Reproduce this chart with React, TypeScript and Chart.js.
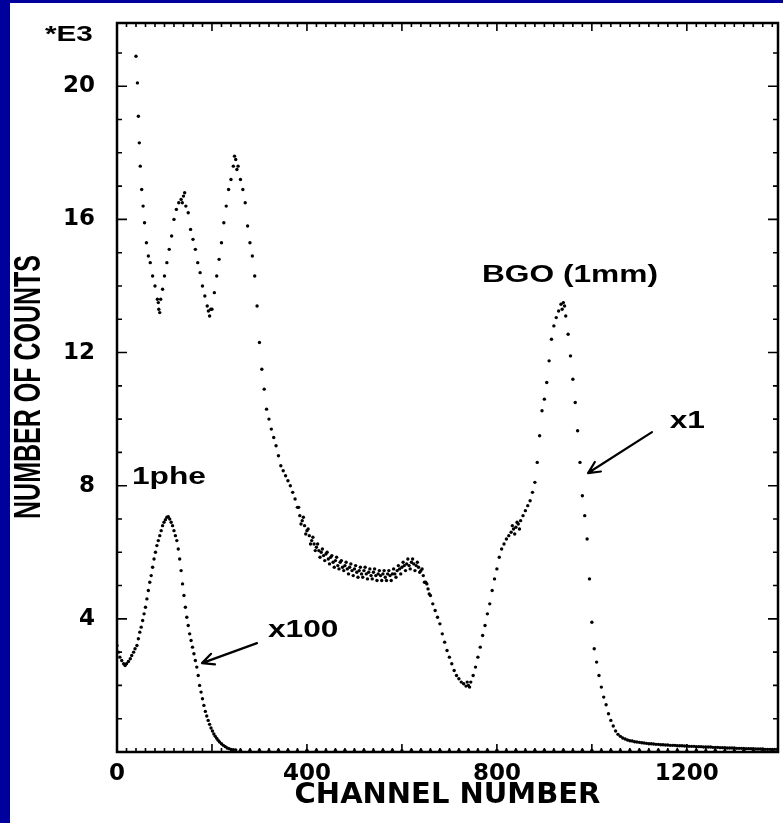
import React, { useEffect, useRef } from "react";
import { Chart, registerables } from "chart.js";

Chart.register(...registerables);

// BGO (1mm) spectrum, x1 — channel numbers and counts (thousands)
const bgoChannels = [
  40, 43, 45, 47, 49, 52, 55, 58, 62, 66, 70, 75, 80, 85, 88, 92, 96, 100, 105, 110,
  115, 120, 125, 130, 135, 140, 145, 150, 155, 160, 165, 170, 175, 180, 185, 190, 195, 200, 205, 210,
  215, 220, 225, 230, 235, 240, 245, 250, 255, 260, 265, 270, 275, 280, 285, 290, 295, 300, 305, 310,
  315, 320, 325, 330, 335, 340, 345, 350, 355, 360, 365, 370, 375, 380, 385, 390, 395, 400, 405, 410,
  415, 420, 425, 430, 435, 440, 445, 450, 455, 460, 465, 470, 475, 480, 485, 490, 495, 500, 505, 510,
  515, 520, 525, 530, 535, 540, 545, 550, 555, 560, 565, 570, 575, 580, 585, 590, 595, 600, 605, 610,
  615, 620, 625, 630, 635, 640, 645, 650, 655, 660, 665, 670, 675, 680, 685, 690, 695, 700, 705, 710,
  715, 720, 725, 730, 735, 740, 745, 750, 755, 760, 765, 770, 775, 780, 785, 790, 795, 800, 805, 810,
  815, 820, 825, 830, 835, 840, 845, 850, 855, 860, 865, 870, 875, 880, 885, 890, 895, 900, 905, 910,
  915, 920, 925, 930, 935, 940, 945, 950, 955, 960, 965, 970, 975, 980, 985, 990, 995, 1000, 1005, 1010,
  1015, 1020, 1025, 1030, 1035, 1040, 1045, 1050, 1055, 1060, 1065, 1070, 1075, 1080, 1090, 1100, 1110, 1120, 1130, 1140,
  1150, 1160, 1170, 1180, 1190, 1200, 1210, 1220, 1230, 1240, 1250, 1260, 1270, 1280, 1290, 1300, 1310, 1320, 1330, 1340,
  1350, 1360, 1370, 1380, 1390,
];
const bgoCounts = [
  20.9, 20.1, 19.1, 18.3, 17.6, 16.9, 16.4, 15.9, 15.3, 14.9, 14.7, 14.3, 14.0, 13.6, 13.3, 13.6, 13.9, 14.3, 14.7, 15.1,
  15.5, 16.0, 16.3, 16.5, 16.6, 16.7, 16.4, 16.2, 15.7, 15.4, 15.1, 14.7, 14.4, 14.0, 13.7, 13.4, 13.1, 13.3, 13.8, 14.3,
  14.8, 15.3, 15.9, 16.4, 16.9, 17.2, 17.6, 17.8, 17.6, 17.2, 16.9, 16.5, 15.8, 15.3, 14.9, 14.3, 13.4, 12.3, 11.5, 10.9,
  10.3, 10.0, 9.7, 9.45, 9.2, 8.9, 8.6, 8.45, 8.3, 8.15, 8.0, 7.8, 7.6, 7.35, 7.1, 6.95, 6.8, 6.65, 6.5, 6.35,
  6.25, 6.15, 6.05, 6.0, 5.9, 5.95, 5.8, 5.85, 5.7, 5.75, 5.6, 5.7, 5.55, 5.6, 5.5, 5.55, 5.45, 5.5, 5.4, 5.45,
  5.35, 5.45, 5.35, 5.4, 5.3, 5.4, 5.3, 5.35, 5.3, 5.35, 5.25, 5.35, 5.3, 5.35, 5.35, 5.45, 5.5, 5.55, 5.6, 5.65,
  5.6, 5.7, 5.65, 5.6, 5.55, 5.45, 5.3, 5.1, 4.9, 4.7, 4.45, 4.25, 4.05, 3.85, 3.55, 3.3, 3.05, 2.85, 2.65, 2.45,
  2.3, 2.2, 2.1, 2.05, 1.98, 2.0, 2.1, 2.3, 2.55, 2.85, 3.15, 3.5, 3.8, 4.15, 4.45, 4.85, 5.2, 5.5, 5.85, 6.1,
  6.25, 6.4, 6.5, 6.6, 6.7, 6.75, 6.85, 6.95, 7.1, 7.25, 7.4, 7.55, 7.8, 8.1, 8.7, 9.5, 10.25, 10.6, 11.1, 11.75,
  12.4, 12.8, 13.05, 13.25, 13.45, 13.5, 13.1, 12.55, 11.9, 11.2, 10.5, 9.65, 8.7, 7.7, 7.1, 6.4, 5.2, 3.9, 3.1, 2.7,
  2.3, 1.95, 1.65, 1.42, 1.15, 0.95, 0.78, 0.63, 0.53, 0.47, 0.42, 0.39, 0.36, 0.34, 0.31, 0.29, 0.27, 0.25, 0.24, 0.23,
  0.22, 0.21, 0.2, 0.19, 0.19, 0.18, 0.17, 0.16, 0.16, 0.15, 0.15, 0.14, 0.13, 0.13, 0.12, 0.12, 0.11, 0.11, 0.1, 0.1,
  0.09, 0.09, 0.08, 0.08, 0.08,
];

// extra BGO channels read from the scattered (noisy) parts of the spectrum
const bgoSpreadChannels = [
  87, 90, 137.5, 142.5, 192.5, 197.5, 247.5, 252.5,
  382.5, 387.5, 392.5, 397.5, 402.5, 407.5, 412.5, 417.5, 422.5, 427.5, 432.5, 437.5,
  442.5, 447.5, 452.5, 457.5, 462.5, 467.5, 472.5, 477.5, 482.5, 487.5, 492.5, 497.5,
  502.5, 507.5, 512.5, 517.5, 522.5, 527.5, 532.5, 537.5, 542.5, 547.5, 552.5, 557.5,
  562.5, 567.5, 572.5, 577.5, 582.5, 587.5, 592.5, 597.5, 602.5, 607.5, 612.5, 617.5,
  622.5, 627.5, 632.5, 637.5, 642.5, 647.5, 652.5, 657.5,
  737.5, 742.5, 832.5, 837.5, 842.5, 847.5, 937.5, 942.5,
  1085, 1095, 1105, 1115, 1125, 1135, 1145, 1155, 1165, 1175, 1185, 1195, 1205, 1215, 1225, 1235,
  1245, 1255, 1265, 1275, 1285, 1295, 1305, 1315, 1325, 1335, 1345, 1355, 1365, 1375, 1385,
];
const bgoSpreadCounts = [
  13.5, 13.2, 16.5, 16.8, 13.25, 13.3, 17.9, 17.5,
  7.35, 6.85, 7.05, 6.55, 6.7, 6.25, 6.45, 6.05, 6.25, 5.85, 6.1, 5.75,
  6.0, 5.65, 5.9, 5.55, 5.85, 5.5, 5.75, 5.45, 5.7, 5.35, 5.65, 5.3,
  5.6, 5.25, 5.55, 5.25, 5.55, 5.2, 5.5, 5.2, 5.5, 5.15, 5.45, 5.15,
  5.45, 5.15, 5.45, 5.15, 5.5, 5.25, 5.6, 5.35, 5.7, 5.45, 5.8, 5.5,
  5.8, 5.45, 5.7, 5.4, 5.5, 5.1, 5.05, 4.75,
  2.1, 1.95, 6.8, 6.55, 6.9, 6.7, 13.3, 13.4,
  0.33, 0.3, 0.28, 0.26, 0.25, 0.23, 0.22, 0.21, 0.2, 0.2, 0.19, 0.18, 0.17, 0.17, 0.16, 0.15,
  0.15, 0.14, 0.14, 0.13, 0.12, 0.12, 0.11, 0.11, 0.1, 0.1, 0.09, 0.09, 0.08, 0.08, 0.08,
];

// Single photoelectron (1phe) spectrum, x100
const pheChannels = [
  0, 3, 6, 10, 14, 17, 20, 24, 28, 31, 35, 38, 42, 45, 48, 51, 54, 57, 60, 63,
  66, 69, 72, 75, 78, 81, 84, 87, 90, 93, 96, 99, 102, 105, 108, 111, 114, 117, 120, 123,
  126, 129, 132, 135, 138, 141, 144, 147, 150, 153, 156, 159, 162, 165, 168, 171, 174, 177, 180, 183,
  186, 189, 192, 195, 198, 201, 204, 207, 210, 213, 216, 220, 224, 228, 232, 236, 240, 245, 250, 260,
  280, 300, 320, 340, 360, 380, 400, 420, 440, 460, 480, 500, 520, 540, 560, 580, 600, 620, 640, 660,
  680, 700, 720, 740, 760, 780, 800, 820, 840, 860, 880, 900, 920, 940, 960, 980, 1000, 1020, 1040, 1060,
  1080, 1100, 1120, 1140, 1160, 1180, 1200, 1220, 1240, 1260, 1280, 1300, 1320, 1340, 1360, 1380,
];
const pheCounts = [
  3.2, 3.0, 2.85, 2.75, 2.65, 2.6, 2.65, 2.72, 2.8, 2.9, 3.0, 3.1, 3.2, 3.4, 3.6, 3.75, 3.95, 4.15, 4.35, 4.6,
  4.85, 5.1, 5.3, 5.55, 5.8, 6.0, 6.2, 6.35, 6.5, 6.65, 6.8, 6.9, 6.98, 7.05, 7.07, 7.0, 6.9, 6.8, 6.65, 6.5,
  6.35, 6.1, 5.8, 5.45, 5.05, 4.7, 4.35, 4.05, 3.8, 3.55, 3.35, 3.15, 2.95, 2.75, 2.55, 2.3, 2.0, 1.8, 1.6, 1.4,
  1.22, 1.08, 0.95, 0.83, 0.72, 0.63, 0.54, 0.47, 0.41, 0.35, 0.3, 0.25, 0.2, 0.16, 0.12, 0.1, 0.08, 0.07, 0.06, 0.05,
  0.05, 0.05, 0.04, 0.05, 0.05, 0.04, 0.05, 0.05, 0.04, 0.05, 0.05, 0.04, 0.05, 0.04, 0.05, 0.05, 0.04, 0.05, 0.05, 0.04,
  0.05, 0.04, 0.05, 0.05, 0.04, 0.05, 0.05, 0.04, 0.05, 0.04, 0.05, 0.05, 0.04, 0.05, 0.04, 0.05, 0.05, 0.04, 0.05, 0.04,
  0.05, 0.05, 0.04, 0.05, 0.04, 0.05, 0.04, 0.05, 0.04, 0.05, 0.04, 0.04, 0.05, 0.04, 0.04, 0.04,
];

const xTickValues = [0, 400, 800, 1200];
const yTickValues = [4, 8, 12, 16, 20];
const xTitle = "CHANNEL NUMBER";
const yTitle = "NUMBER OF COUNTS";
const yUnitLabel = "*E3";

// text labels inside the plot, placed in data units (channel, counts*1e3)
const labelTexts = ["1phe", "x100", "BGO (1mm)", "x1"];
const labelChannels = [31.6, 318, 768.6, 1164];
const labelCounts = [8.05, 3.45, 14.12, 9.73];

// arrows: tail -> head, in data units
const arrowFromChannels = [294.8, 1126.6];
const arrowFromCounts = [3.27, 9.61];
const arrowToChannels = [179, 992];
const arrowToCounts = [2.67, 8.38];

const BOLD_FAMILY = "'Liberation Sans', Arial, sans-serif";
const TICK_FAMILY = "'DejaVu Sans', sans-serif";

const decorPlugin = {
  id: "decor",
  afterDatasetsDraw(chart: any) {
    const { ctx, chartArea, scales } = chart;
    const xs = scales.x;
    const ys = scales.y;
    const { left, right, top, bottom } = chartArea;
    ctx.save();
    ctx.fillStyle = "#000";
    ctx.strokeStyle = "#000";

    // frame
    ctx.lineWidth = 2.5;
    ctx.strokeRect(left, top, right - left, bottom - top);

    // inward tick marks
    ctx.lineWidth = 1.6;
    ctx.beginPath();
    for (let v = 0; v <= 21; v += 1) {
      const py = ys.getPixelForValue(v);
      const len = v % 4 === 0 ? 10 : 5;
      ctx.moveTo(left, py);
      ctx.lineTo(left + len, py);
      ctx.moveTo(right, py);
      ctx.lineTo(right - len, py);
    }
    for (let c = 0; c <= 1390; c += 20) {
      const px = xs.getPixelForValue(c);
      const len = c % 200 === 0 ? 8 : 4;
      ctx.moveTo(px, bottom);
      ctx.lineTo(px, bottom - len);
      ctx.moveTo(px, top);
      ctx.lineTo(px, top + len);
    }
    ctx.stroke();

    // y title (rotated, widened)
    ctx.save();
    ctx.translate(20, 384);
    ctx.rotate(-Math.PI / 2);
    ctx.scale(1, 1.45);
    ctx.font = `bold 25px ${BOLD_FAMILY}`;
    ctx.textAlign = "center";
    ctx.textBaseline = "middle";
    ctx.fillText(yTitle, 0, 0);
    ctx.restore();

    // unit label *E3
    ctx.save();
    ctx.translate(left - 72, top + 18);
    ctx.scale(1.35, 1);
    ctx.font = `bold 22px ${BOLD_FAMILY}`;
    ctx.textAlign = "left";
    ctx.textBaseline = "alphabetic";
    ctx.fillText(yUnitLabel, 0, 0);
    ctx.restore();

    // annotations
    for (let i = 0; i < labelTexts.length; i++) {
      const px = xs.getPixelForValue(labelChannels[i]);
      const py = ys.getPixelForValue(labelCounts[i]);
      ctx.save();
      ctx.translate(px, py);
      ctx.scale(1.32, 1);
      ctx.font = `bold 24px ${BOLD_FAMILY}`;
      ctx.textAlign = "left";
      ctx.textBaseline = "alphabetic";
      ctx.fillText(labelTexts[i], 0, 0);
      ctx.restore();
    }

    // arrows
    ctx.lineWidth = 2.2;
    ctx.lineCap = "round";
    for (let i = 0; i < arrowFromChannels.length; i++) {
      const x0 = xs.getPixelForValue(arrowFromChannels[i]);
      const y0 = ys.getPixelForValue(arrowFromCounts[i]);
      const x1 = xs.getPixelForValue(arrowToChannels[i]);
      const y1 = ys.getPixelForValue(arrowToCounts[i]);
      const ang = Math.atan2(y1 - y0, x1 - x0);
      const hl = 13;
      ctx.beginPath();
      ctx.moveTo(x0, y0);
      ctx.lineTo(x1, y1);
      ctx.moveTo(x1, y1);
      ctx.lineTo(x1 - hl * Math.cos(ang - 0.45), y1 - hl * Math.sin(ang - 0.45));
      ctx.moveTo(x1, y1);
      ctx.lineTo(x1 - hl * Math.cos(ang + 0.45), y1 - hl * Math.sin(ang + 0.45));
      ctx.stroke();
    }
    ctx.restore();
  },
};

export default function App() {
  const ref = useRef<HTMLCanvasElement>(null);

  useEffect(() => {
    if (!ref.current) return;
    const bgo = bgoChannels.map((c, i) => ({ x: c, y: bgoCounts[i] }));
    const spread = bgoSpreadChannels.map((c, i) => ({ x: c, y: bgoSpreadCounts[i] }));
    const phe = pheChannels.map((c, i) => ({ x: c, y: pheCounts[i] }));
    const dotStyle = {
      pointRadius: 1.7,
      pointBorderWidth: 0,
      pointBackgroundColor: "#000",
      pointBorderColor: "#000",
      showLine: false,
    };
    const chart = new Chart(ref.current, {
      type: "scatter",
      data: {
        datasets: [
          { label: "BGO (1mm) x1", data: bgo, ...dotStyle },
          { label: "BGO (1mm) x1 spread", data: spread, ...dotStyle },
          { label: "1phe x100", data: phe, ...dotStyle },
        ],
      },
      options: {
        responsive: false,
        animation: false,
        devicePixelRatio: 1,
        layout: { padding: { left: 0, top: 20, right: 5, bottom: 0 } },
        plugins: {
          legend: { display: false },
          tooltip: { enabled: false },
        },
        scales: {
          x: {
            type: "linear",
            min: 0,
            max: 1392,
            grid: { display: false, drawTicks: false },
            border: { display: false },
            afterBuildTicks: (s: any) => {
              s.ticks = xTickValues.map((v) => ({ value: v }));
            },
            afterFit: (s: any) => {
              s.height = 71;
              s.paddingLeft = 0;
              s.paddingRight = 0;
            },
            ticks: {
              autoSkip: false,
              maxRotation: 0,
              padding: 8,
              color: "#000",
              font: { family: TICK_FAMILY, size: 23, weight: "bold" },
              callback: (v: any) => String(v),
            },
            title: {
              display: true,
              text: xTitle,
              color: "#000",
              font: { family: TICK_FAMILY, size: 29, weight: "bold", lineHeight: 1.2 },
              padding: { top: 0, bottom: 10 },
            },
          },
          y: {
            type: "linear",
            min: 0,
            max: 21.9,
            grid: { display: false, drawTicks: false },
            border: { display: false },
            afterBuildTicks: (s: any) => {
              s.ticks = yTickValues.map((v) => ({ value: v }));
            },
            afterFit: (s: any) => {
              s.width = 107;
              s.paddingTop = 0;
              s.paddingBottom = 0;
            },
            ticks: {
              autoSkip: false,
              padding: 22,
              color: "#000",
              font: { family: TICK_FAMILY, size: 23, weight: "bold" },
              callback: (v: any) => String(v),
            },
          },
        },
      },
      plugins: [decorPlugin],
    });
    return () => chart.destroy();
  }, []);

  return (
    <div
      style={{
        position: "fixed",
        left: 0,
        top: 0,
        width: 783,
        height: 823,
        background: "#00009c",
        overflow: "hidden",
      }}
    >
      <div style={{ position: "absolute", left: 10, top: 3, width: 773, height: 820, background: "#fff" }}>
        <canvas ref={ref} width={773} height={820} style={{ display: "block", width: 773, height: 820 }} />
      </div>
    </div>
  );
}
